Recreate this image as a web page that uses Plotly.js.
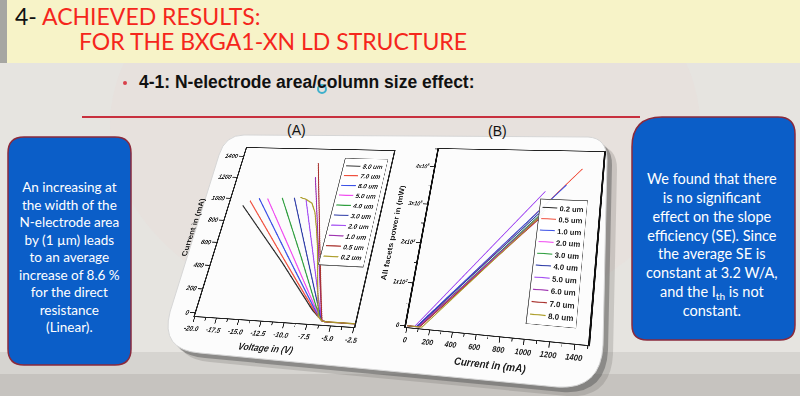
<!DOCTYPE html>
<html><head><meta charset="utf-8">
<script src="https://cdn.plot.ly/plotly-3.0.1.min.js"></script>
<style>
html,body{margin:0;padding:0;width:800px;height:396px;overflow:hidden;background:#e6e4e0;}
#bg{position:absolute;left:0;top:0;width:800px;height:396px;}
.chart{position:absolute;left:0;top:0;transform-origin:0 0;}
</style></head><body>
<div id="bg"></div>
<div id="chartA" class="chart"></div>
<div id="chartB" class="chart"></div>
<script>
// ---------- DATA: chart (A) current vs voltage ----------
const aWidths = ['8.0 um','7.0 um','6.0 um','5.0 um','4.0 um','3.0 um','2.0 um','1.0 um','0.5 um','0.2 um'];
const aV_8_0 = [-2.5, -5.6, -6.0, -7.3, -12.0, -18.4];
const aI_8_0 = [0, 0, 5, 85, 460, 940];
const aV_7_0 = [-2.5, -5.6, -6.0, -7.2, -11.8, -17.7];
const aI_7_0 = [0, 0, 5, 90, 480, 985];
const aV_6_0 = [-2.5, -5.6, -6.0, -7.1, -11.5, -16.7];
const aI_6_0 = [0, 0, 5, 95, 510, 1010];
const aV_5_0 = [-2.5, -5.6, -6.0, -7.0, -11.0, -15.7];
const aI_5_0 = [0, 0, 5, 100, 520, 1010];
const aV_4_0 = [-2.5, -5.6, -6.0, -7.0, -10.0, -14.0];
const aI_4_0 = [0, 0, 5, 115, 510, 1020];
const aV_3_0 = [-2.5, -5.6, -6.0, -6.9, -9.5, -12.6];
const aI_3_0 = [0, 0, 5, 135, 540, 1025];
const aV_2_0 = [-2.5, -5.6, -6.0, -6.8, -9.0, -11.2];
const aI_2_0 = [0, 0, 5, 150, 585, 1015];
const aV_1_0 = [-2.5, -5.6, -6.0, -6.6, -8.5, -10.8];
const aI_1_0 = [0, 0, 5, 150, 630, 1220];
const aV_0_5 = [-2.5, -5.6, -6.0, -6.6, -8.5, -10.9];
const aI_0_5 = [0, 0, 5, 160, 680, 1350];
const aV_0_2 = [-2.5, -5.6, -6.0, -6.5, -7.5, -8.5, -9.1, -9.8, -10.4, -11.2, -11.9];
const aI_0_2 = [0, 0, 5, 35, 316, 605, 753, 905, 982, 1015, 1030];
const aXTicks = [-20, -17.5, -15, -12.5, -10, -7.5, -5, -2.5];
const aXTickText = ['-20.0','-17.5','-15.0','-12.5','-10.0','-7.5','-5.0','-2.5'];
const aYTicks = [0, 200, 400, 600, 800, 1000, 1200, 1400];
const aYTickText = ['0','200','400','600','800','1000','1200','1400'];

// ---------- DATA: chart (B) power vs current ----------
const bWidths = ['0.2 um','0.5 um','1.0 um','2.0 um','3.0 um','4.0 um','5.0 um','6.0 um','7.0 um','8.0 um'];
const bI_0_2 = [0, 80, 1040];  const bP_0_2 = [0, 0, 3080];
const bI_0_5 = [0, 95, 1330];  const bP_0_5 = [0, 0, 4050];
const bI_1_0 = [0, 80, 1205];  const bP_1_0 = [0, 0, 3620];
const bI_2_0 = [0, 90, 1040];  const bP_2_0 = [0, 0, 2850];
const bI_3_0 = [0, 100, 1050]; const bP_3_0 = [0, 0, 2980];
const bI_4_0 = [0, 85, 1045];  const bP_4_0 = [0, 0, 3030];
const bI_5_0 = [0, 65, 1030];  const bP_5_0 = [0, 0, 3440];
const bI_6_0 = [0, 100, 1030]; const bP_6_0 = [0, 0, 2880];
const bI_7_0 = [0, 110, 1020]; const bP_7_0 = [0, 0, 2800];
const bI_8_0 = [0, 130, 1040]; const bP_8_0 = [0, 0, 2900];
const bXTicks = [0, 200, 400, 600, 800, 1000, 1200, 1400];
const bXTickText = ['0','200','400','600','800','1000','1200','1400'];
const bYTicks = [0, 1000, 2000, 3000, 4000];
const bYTickText = ['0','1x10<sup>3</sup>','2x10<sup>3</sup>','3x10<sup>3</sup>','4x10<sup>3</sup>'];

// ---------- styles ----------
const palette = ['#2b2b2b','#f0513f','#3d52e6','#f04cf0','#2f9e3f','#2c3aa6','#a24cf2','#9c2fae','#a8302c','#ab9c27'];
const FONT = 'Liberation Sans, Arial, sans-serif';
const SLIDE_FONT = 'Lato, "Open Sans", sans-serif';
const config = {staticPlot:true, displayModeBar:false};

// ---------- homography helper (maps local plot corners to skewed quad on slide) ----------
function solve(A, b){
  const n=b.length;
  for(let i=0;i<n;i++){
    let p=i; for(let r=i+1;r<n;r++) if(Math.abs(A[r][i])>Math.abs(A[p][i])) p=r;
    [A[i],A[p]]=[A[p],A[i]]; [b[i],b[p]]=[b[p],b[i]];
    for(let r=i+1;r<n;r++){ const f=A[r][i]/A[i][i]; for(let c=i;c<n;c++) A[r][c]-=f*A[i][c]; b[r]-=f*b[i]; }
  }
  const x=new Array(n).fill(0);
  for(let i=n-1;i>=0;i--){ let s=b[i]; for(let c=i+1;c<n;c++) s-=A[i][c]*x[c]; x[i]=s/A[i][i]; }
  return x;
}
function matrixFor(src, dst){
  const A=[], b=[];
  for(let i=0;i<4;i++){
    const [x,y]=src[i], [X,Y]=dst[i];
    A.push([x,y,1,0,0,0,-x*X,-y*X]); b.push(X);
    A.push([0,0,0,x,y,1,-x*Y,-y*Y]); b.push(Y);
  }
  const [a,bb,c,d,e,f,g,h]=solve(A,b);
  return `matrix3d(${a},${d},0,${g},${bb},${e},0,${h},0,0,1,0,${c},${f},0,1)`;
}

// ---------- background slide ----------
function rr(x0,y0,x1,y1,r){
  return `M${x0+r},${y0} L${x1-r},${y0} Q${x1},${y0} ${x1},${y0+r} L${x1},${y1-r} Q${x1},${y1} ${x1-r},${y1} L${x0+r},${y1} Q${x0},${y1} ${x0},${y1-r} L${x0},${y0+r} Q${x0},${y0} ${x0+r},${y0} Z`;
}
function cardPath(dx,dy){
  const P=(x,y)=>`${x+dx},${y+dy}`;
  return `M${P(244,135)} L${P(588,137)} Q${P(607,138)} ${P(607,160)} L${P(603,345)} Q${P(601,390)} ${P(557,387)} L${P(200,353)} Q${P(160,350)} ${P(170,312)} L${P(219,155)} Q${P(225,135)} ${P(244,135)} Z`;
}
const bgShapes = [
  {type:'circle', x0:110, x1:700, y0:-80, y1:330, fillcolor:'rgba(236,205,205,0.12)', line:{width:0}},
  {type:'rect', x0:0, x1:800, y0:352, y1:396, fillcolor:'rgba(160,157,150,0.22)', line:{width:0}},
  {type:'rect', x0:0, x1:800, y0:374, y1:396, fillcolor:'rgba(140,137,130,0.22)', line:{width:0}},
  {type:'rect', x0:7, x1:800, y0:0, y1:63, fillcolor:'#f7f3c8', line:{width:0}},
  {type:'rect', x0:0, x1:7, y0:0, y1:63, fillcolor:'#a6a6a2', line:{width:0}},
  {type:'line', x0:82, x1:640, y0:117, y1:117, line:{color:'#c8303e', width:2}},
  {type:'circle', x0:123, x1:127, y0:81, y1:85, fillcolor:'#d8404a', line:{width:0}},
  {type:'circle', x0:318, x1:326, y0:85, y1:93, line:{color:'#3fb0cc', width:2}},
  {type:'path', path:cardPath(10,9), fillcolor:'rgba(110,108,104,0.25)', line:{width:0}},
  {type:'path', path:cardPath(5,5), fillcolor:'rgba(80,80,80,0.45)', line:{width:0}},
  {type:'path', path:cardPath(0,0), fillcolor:'#fcfcfc', line:{color:'#d6d6d6', width:1}},
  {type:'path', path:rr(8,137,131,365,16), fillcolor:'#0b5ec8', line:{color:'#8b2a3c', width:1.5}},
  {type:'path', path:'M632,147 Q632,117 662,117 L778,117 Q795,117 795,134 L795,325 Q795,340 780,340 L647,340 Q632,340 632,325 Z', fillcolor:'#0b5ec8', line:{color:'#8b2a3c', width:1.5}}
];
const bgAnn = [
  {x:13, y:16, xanchor:'left', yanchor:'middle', showarrow:false,
   text:'4- <span style="color:#f5261c">ACHIEVED RESULTS:</span>', font:{family:SLIDE_FONT, size:23, color:'#111'}},
  {x:77, y:41, xanchor:'left', yanchor:'middle', showarrow:false,
   text:'FOR THE BXGA1-XN LD STRUCTURE', font:{family:SLIDE_FONT, size:23, color:'#f5261c'}},
  {x:137, y:82, xanchor:'left', yanchor:'middle', showarrow:false,
   text:'4-1: N-electrode area/column size effect:', font:{family:FONT, size:17.5, weight:'bold', color:'#111'}},
  {x:296, y:130, xanchor:'center', yanchor:'middle', showarrow:false, text:'(A)', font:{family:FONT, size:14, color:'#111'}},
  {x:497, y:131, xanchor:'center', yanchor:'middle', showarrow:false, text:'(B)', font:{family:FONT, size:14, color:'#111'}},
  {x:69, y:257, xanchor:'center', yanchor:'middle', showarrow:false, align:'center',
   text:'An increasing at<br>the width of the<br>N-electrode area<br>by (1 µm) leads<br>to an average<br>increase of 8.6 %<br>for the direct<br>resistance<br>(Linear).',
   font:{family:SLIDE_FONT, size:13.5, color:'#ffffff'}},
  {x:712, y:244, xanchor:'center', yanchor:'middle', showarrow:false, align:'center',
   text:'We found that there<br>is no significant<br>effect on the slope<br>efficiency (SE). Since<br>the average SE is<br>constant at 3.2 W/A,<br>and the I<sub>th</sub> is not<br>constant.',
   font:{family:SLIDE_FONT, size:14.5, color:'#ffffff'}}
];
const hidden = {visible:false, fixedrange:true, title:{text:''}};
Plotly.newPlot('bg', [], {
  width:800, height:396, margin:{l:0,r:0,t:0,b:0}, paper_bgcolor:'#e6e4e0', plot_bgcolor:'rgba(0,0,0,0)',
  xaxis:Object.assign({range:[0,800]}, hidden), yaxis:Object.assign({range:[396,0]}, hidden),
  shapes:bgShapes, annotations:bgAnn, showlegend:false
}, config);

// ---------- chart A ----------
const aV = [aV_8_0,aV_7_0,aV_6_0,aV_5_0,aV_4_0,aV_3_0,aV_2_0,aV_1_0,aV_0_5,aV_0_2];
const aI = [aI_8_0,aI_7_0,aI_6_0,aI_5_0,aI_4_0,aI_3_0,aI_2_0,aI_1_0,aI_0_5,aI_0_2];
const tracesA = aWidths.map((name,i)=>({type:'scatter', mode:'lines', name:name, x:aV[i], y:aI[i],
  line:{color:palette[i], width:2.2}}));
const tickFontA = {family:FONT, size:13, weight:'bold', style:'italic', color:'#222'};
const layoutA = {
  width:430, height:456, margin:{l:96, r:16, t:20, b:100, pad:0},
  paper_bgcolor:'rgba(0,0,0,0)', plot_bgcolor:'rgba(0,0,0,0)', font:{family:FONT},
  xaxis:{range:[-20,-2.5], tickmode:'array', tickvals:aXTicks, ticktext:aXTickText, ticks:'outside', ticklen:9, tickwidth:2, tickcolor:'#222',
    showline:true, linecolor:'#222', linewidth:2.4, mirror:true, showgrid:false, zeroline:false, tickfont:tickFontA, automargin:false,
    minor:{dtick:1.25, tick0:-20, ticks:'outside', ticklen:5, tickwidth:1.6, tickcolor:'#222', showgrid:false},
    title:{text:'Voltage in (V)', font:{family:FONT, size:17, weight:'bold', style:'italic', color:'#222'}, standoff:12}},
  yaxis:{range:[-25,1480], tickmode:'array', tickvals:aYTicks, ticktext:aYTickText, ticks:'outside', ticklen:9, tickwidth:2, tickcolor:'#222',
    showline:true, linecolor:'#222', linewidth:2.8, mirror:true, showgrid:false, zeroline:false, tickfont:tickFontA, automargin:false,
    title:{text:'Current in (mA)', font:{family:FONT, size:16, weight:'bold', color:'#222'}, standoff:10}},
  legend:{x:0.69, y:0.95, xanchor:'left', yanchor:'top', bgcolor:'rgba(255,255,255,0.95)', bordercolor:'#666', borderwidth:1.5,
    font:{family:FONT, size:13, weight:'bold', style:'italic', color:'#222'}, tracegroupgap:0}
};
Plotly.newPlot('chartA', tracesA, layoutA, config);
document.getElementById('chartA').style.transform = matrixFor(
  [[96,20],[414,20],[414,356],[96,356]],
  [[247,148],[394,151],[354,327],[195,316]]);

// ---------- chart B ----------
const bI = [bI_0_2,bI_0_5,bI_1_0,bI_2_0,bI_3_0,bI_4_0,bI_5_0,bI_6_0,bI_7_0,bI_8_0];
const bP = [bP_0_2,bP_0_5,bP_1_0,bP_2_0,bP_3_0,bP_4_0,bP_5_0,bP_6_0,bP_7_0,bP_8_0];
const tracesB = bWidths.map((name,i)=>({type:'scatter', mode:'lines', name:name, x:bI[i], y:bP[i],
  line:{color:palette[i], width:2}}));
const tickFontB = {family:FONT, size:14, weight:'bold', style:'italic', color:'#222'};
const layoutB = {
  width:490, height:480, margin:{l:116, r:16, t:20, b:96, pad:0},
  paper_bgcolor:'rgba(0,0,0,0)', plot_bgcolor:'rgba(0,0,0,0)', font:{family:FONT},
  xaxis:{range:[-10,1500], tickmode:'array', tickvals:bXTicks, ticktext:bXTickText, ticks:'outside', ticklen:9, tickwidth:2, tickcolor:'#222',
    showline:true, linecolor:'#222', linewidth:2.4, mirror:true, showgrid:false, zeroline:false, tickfont:tickFontB, automargin:false,
    minor:{dtick:100, tick0:0, ticks:'outside', ticklen:5, tickwidth:1.6, tickcolor:'#222', showgrid:false},
    title:{text:'Current in (mA)', font:{family:FONT, size:19, weight:'bold', style:'italic', color:'#222'}, standoff:14}},
  yaxis:{range:[-30,4500], tickmode:'array', tickvals:bYTicks, ticktext:bYTickText, ticks:'outside', ticklen:9, tickwidth:2, tickcolor:'#222',
    showline:true, linecolor:'#111', linewidth:3.6, mirror:true, showgrid:false, zeroline:false,
    tickfont:{family:FONT, size:12, weight:'bold', style:'italic', color:'#222'}, automargin:false,
    minor:{dtick:500, tick0:0, ticks:'outside', ticklen:5, tickwidth:1.6, tickcolor:'#222', showgrid:false},
    title:{text:'All facets power in (mW)', font:{family:FONT, size:17, weight:'bold', color:'#222'}, standoff:10}},
  legend:{x:0.665, y:0.725, xanchor:'left', yanchor:'top', bgcolor:'rgba(255,255,255,0.95)', bordercolor:'#666', borderwidth:1.5,
    font:{family:FONT, size:15, weight:'bold', color:'#222'}, tracegroupgap:0}
};
Plotly.newPlot('chartB', tracesB, layoutB, config);
document.getElementById('chartB').style.transform = matrixFor(
  [[116,20],[474,20],[474,384],[116,384]],
  [[439,149],[604,152],[588,345],[406,327]]);
</script></body></html>
